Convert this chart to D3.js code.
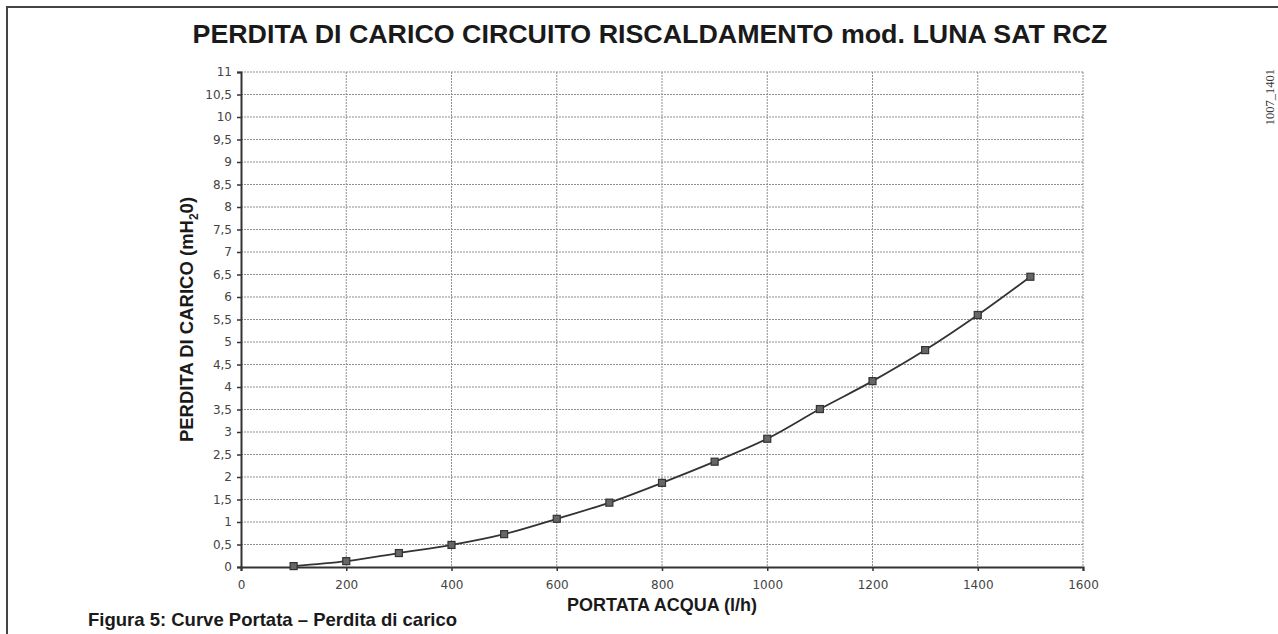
<!DOCTYPE html>
<html>
<head>
<meta charset="utf-8">
<script src="https://cdn.jsdelivr.net/npm/d3@7"></script>
<style>
  body { margin: 0; background: #fff; }
  svg { display: block; }
</style>
</head>
<body>
<div id="chart"></div>
<script>
const portata = [100, 200, 300, 400, 500, 600, 700, 800, 900, 1000, 1100, 1200, 1300, 1400, 1500];
const perdita = [0.02, 0.13, 0.31, 0.49, 0.73, 1.07, 1.43, 1.87, 2.34, 2.85, 3.51, 4.13, 4.82, 5.6, 6.45];
const xTicks = [0, 200, 400, 600, 800, 1000, 1200, 1400, 1600];
const yTicks = d3.range(0, 11.01, 0.5);

const W = 1278, H = 634;
const margin = { top: 72, right: 195, bottom: 67, left: 241 };
const width = W - margin.left - margin.right;
const height = H - margin.top - margin.bottom;

const svg = d3.select("#chart").append("svg")
  .attr("width", W)
  .attr("height", H);

// cornice
svg.append("path")
  .attr("d", `M7,${H} L7,7 L${W},7`)
  .attr("fill", "none")
  .attr("stroke", "#444")
  .attr("stroke-width", 2);

svg.append("text")
  .attr("x", 650)
  .attr("y", 43)
  .attr("text-anchor", "middle")
  .attr("textLength", 915)
  .attr("lengthAdjust", "spacingAndGlyphs")
  .style("font", "bold 25px 'Liberation Sans', Arial, sans-serif")
  .style("fill", "#1a1a1a")
  .text("PERDITA DI CARICO CIRCUITO RISCALDAMENTO mod. LUNA SAT RCZ");

const x = d3.scaleLinear().domain([0, 1600]).range([0, width]);
const y = d3.scaleLinear().domain([0, 11]).range([height, 0]);

const g = svg.append("g").attr("transform", `translate(${margin.left},${margin.top})`);

// griglia
g.append("g").selectAll("line")
  .data(yTicks.filter(d => d > 0))
  .join("line")
  .attr("x1", 0).attr("x2", width)
  .attr("y1", d => y(d)).attr("y2", d => y(d))
  .attr("stroke", "#8f8f8f")
  .attr("stroke-width", 1)
  .attr("stroke-dasharray", "2,1");

g.append("g").selectAll("line")
  .data(xTicks.filter(d => d > 0))
  .join("line")
  .attr("x1", d => x(d)).attr("x2", d => x(d))
  .attr("y1", 0).attr("y2", height)
  .attr("stroke", "#8f8f8f")
  .attr("stroke-width", 1)
  .attr("stroke-dasharray", "2,1");

const fmt = d => String(d).replace(".", ",");

const yAxis = g.append("g")
  .call(d3.axisLeft(y).tickValues(yTicks).tickFormat(fmt).tickSize(4).tickPadding(5));
const xAxis = g.append("g")
  .attr("transform", `translate(0,${height})`)
  .call(d3.axisBottom(x).tickValues(xTicks).tickFormat(d3.format("d")).tickSize(4).tickPadding(9));

[xAxis, yAxis].forEach(a => {
  a.select(".domain").attr("stroke", "#333").attr("stroke-width", 2);
  a.selectAll(".tick line").attr("stroke", "#333").attr("stroke-width", 1.5);
  a.selectAll("text")
    .style("font-family", "'DejaVu Sans', Verdana, sans-serif")
    .style("font-size", "12px")
    .style("fill", "#444");
});

// curva
const pts = portata.map((p, i) => [p, perdita[i]]);
g.append("path")
  .datum(pts)
  .attr("fill", "none")
  .attr("stroke", "#333")
  .attr("stroke-width", 1.8)
  .attr("d", d3.line().x(d => x(d[0])).y(d => y(d[1])).curve(d3.curveMonotoneX));

g.append("g").selectAll("rect")
  .data(pts)
  .join("rect")
  .attr("x", d => x(d[0]) - 3.5)
  .attr("y", d => y(d[1]) - 3.5)
  .attr("width", 7).attr("height", 7)
  .attr("fill", "#666")
  .attr("stroke", "#333")
  .attr("stroke-width", 1.2);

// titoli assi
svg.append("text")
  .attr("x", margin.left + width / 2)
  .attr("y", 611)
  .attr("text-anchor", "middle")
  .style("font", "bold 18px 'Liberation Sans', Arial, sans-serif")
  .style("fill", "#1a1a1a")
  .text("PORTATA ACQUA (l/h)");

const yl = svg.append("text")
  .attr("transform", `translate(193,${margin.top + height / 2}) rotate(-90)`)
  .attr("text-anchor", "middle")
  .style("font", "bold 18.5px 'Liberation Sans', Arial, sans-serif")
  .style("fill", "#1a1a1a");
yl.append("tspan").text("PERDITA DI CARICO (mH");
yl.append("tspan").attr("dy", 5).style("font-size", "12px").text("2");
yl.append("tspan").attr("dy", -5).text("0)");

svg.append("text")
  .attr("x", 88)
  .attr("y", 626)
  .style("font", "bold 18.5px 'Liberation Sans', Arial, sans-serif")
  .style("fill", "#1a1a1a")
  .text("Figura 5: Curve Portata – Perdita di carico");

svg.append("text")
  .attr("transform", "translate(1274,97) rotate(-90)")
  .attr("text-anchor", "middle")
  .style("font", "12.5px 'Liberation Serif', 'Times New Roman', serif")
  .style("fill", "#333")
  .text("1007_1401");
</script>
</body>
</html>
